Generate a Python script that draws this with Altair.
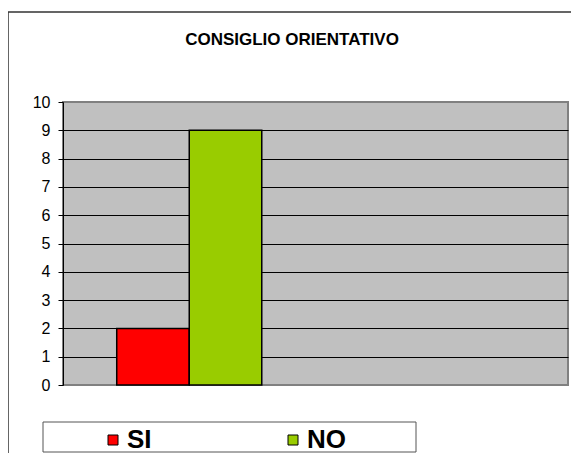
import altair as alt
import pandas as pd

# Data
title_text = "CONSIGLIO ORIENTATIVO"
series = ["SI", "NO"]
values = [2, 9]
group = "Consiglio orientativo"
x_slots = [group, " "]          # Excel category slots (second is empty)
colors = ["#FF0000", "#99CC00"]
y_ticks = [0, 1, 2, 3, 4, 5, 6, 7, 8, 9, 10]

df = pd.DataFrame({"gruppo": [group] * len(series), "serie": series, "valore": values})

FONT = "Liberation Sans"

bars = alt.Chart(df).mark_bar(stroke="black", strokeWidth=1.5).encode(
    x=alt.X("gruppo:N", scale=alt.Scale(domain=x_slots, paddingInner=0, paddingOuter=0),
            axis=None),
    xOffset=alt.XOffset("serie:N", scale=alt.Scale(domain=series, paddingInner=0, paddingOuter=0.741)),
    y=alt.Y("valore:Q", scale=alt.Scale(domain=[0, 10], nice=False),
            axis=alt.Axis(values=y_ticks, title=None, labelFont=FONT, labelFontSize=16,
                          labelColor="black", labelPadding=8, tickSize=5, tickColor="black",
                          domainColor="black", grid=True,
                          gridColor={"condition": {"test": "datum.value == 0 || datum.value == 10",
                                                   "value": "#808080"}, "value": "black"},
                          gridWidth=1)),
    color=alt.Color("serie:N", scale=alt.Scale(domain=series, range=colors),
                    legend=alt.Legend(title=None, orient="none", legendX=37, legendY=325,
                                      direction="horizontal", columnPadding=128,
                                      symbolType="square", symbolSize=100,
                                      symbolStrokeColor="black", symbolStrokeWidth=1,
                                      labelFont=FONT, labelFontSize=26, labelFontWeight="bold",
                                      labelColor="black", labelOffset=1, padding=0)),
)

deco = alt.Data(values=[{"k": 1}])
outer = alt.Chart(deco).mark_rect(fill="transparent", stroke="#333333", strokeWidth=1.5).encode(
    x=alt.value(-55), x2=alt.value(520), y=alt.value(-90), y2=alt.value(360))
legend_box = alt.Chart(deco).mark_rect(fill="transparent", stroke="#555555", strokeWidth=1).encode(
    x=alt.value(-20), x2=alt.value(353), y=alt.value(320), y2=alt.value(350))
title = alt.Chart(alt.Data(values=[{"t": title_text}])).mark_text(
    font=FONT, fontSize=17, fontWeight="bold", color="black", align="center",
    baseline="alphabetic").encode(text="t:N", x=alt.value(229), y=alt.value(-57))

chart = alt.layer(outer, legend_box, title, bars).properties(
    width=505, height=283,
    autosize=alt.AutoSizeParams(type="none"),
    padding={"left": 55, "top": 94, "right": 3, "bottom": 68},
).configure(background="white").configure_view(fill="#C0C0C0", stroke="#808080", strokeWidth=2)

chart.save("out.html", embed_options={"renderer": "svg", "actions": False})
